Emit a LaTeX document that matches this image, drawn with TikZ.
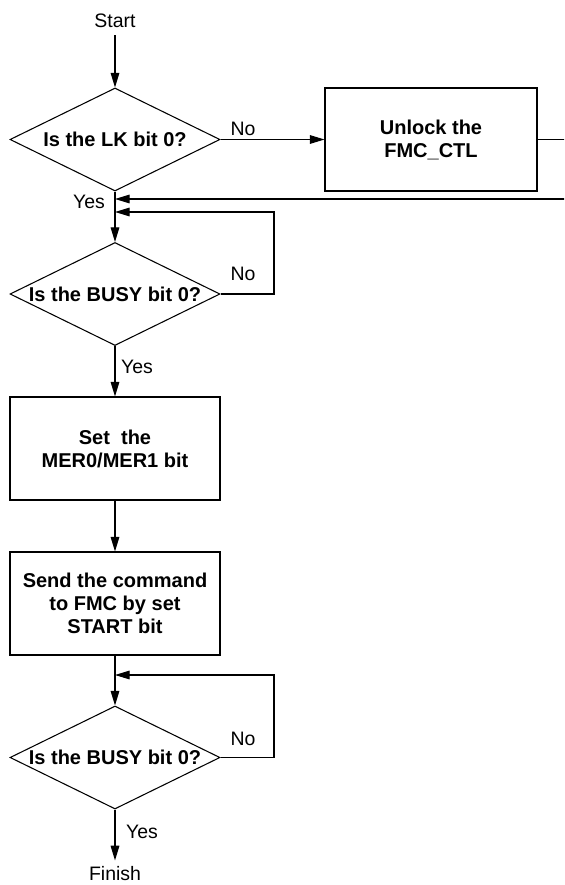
\documentclass[tikz,border=0pt]{standalone}
\usepackage{fontspec}
\setmainfont{Liberation Sans}
\usetikzlibrary{shapes.geometric,arrows.meta}
\begin{document}
\begin{tikzpicture}[x=0.75pt,y=-0.75pt,line width=0.8pt,
  arr/.style={-{Triangle[length=11pt,width=6.5pt]}},
  procbox/.style={draw,minimum width=157.5pt,minimum height=77.25pt,inner sep=0pt,
    align=center,font=\fontsize{15}{17.25}\selectfont\bfseries},
  dia/.style={draw,diamond,minimum width=157.5pt,minimum height=77.25pt,inner sep=0pt},
  dtext/.style={inner sep=0pt,font=\fontsize{15}{17.25}\selectfont\bfseries},
  lbl/.style={inner sep=0pt,anchor=base,font=\fontsize{14.6}{17}\selectfont}]
\useasboundingbox (0,0) rectangle (564,885);
\clip (0,0) rectangle (564,885);
% nodes
\node[lbl,outer ysep=6pt] (start) at (115,27) {Start};
\node[dia] (d1) at (115,139.5) {};
\node[dtext] at (d1.center) {Is the LK bit 0?};
\node[procbox,minimum width=159pt] (box1) at (431,139.5) {Unlock the\\FMC\_CTL};
\node[dia] (d2) at (115,294) {};
\node[dtext] at (d2.center) {Is the BUSY bit 0?};
\node[procbox] (box2) at (115,448.5) {Set\ \ the\\MER0/MER1 bit};
\node[procbox] (box3) at (115,603.5) {Send the command\\to FMC by set\\START bit};
\node[dia] (d3) at (115,757.5) {};
\node[dtext] at (d3.center) {Is the BUSY bit 0?};
\node[lbl,outer ysep=4.5pt] (finish) at (115,880.5) {Finish};
% coordinates
\coordinate (r1) at (590,139.5);
\coordinate (j1) at (115,199);
\coordinate (r2) at (274,294);
\coordinate (j2) at (115,212);
\coordinate (r3) at (274,757.5);
\coordinate (j3) at (115,675);
% connectors
\draw[arr] (start.south) -- (d1.north);
\draw[arr] (d1.east) -- (box1.west);
\draw[arr] (box1.east) -- (r1) |- (j1);
\draw[arr] (d1.south) -- (d2.north);
\draw[arr] (d2.east) -- (r2) |- (j2);
\draw[arr] (d2.south) -- (box2.north);
\draw[arr] (box2.south) -- (box3.north);
\draw[arr] (box3.south) -- (d3.north);
\draw[arr] (d3.east) -- (r3) |- (j3);
\draw[arr] (d3.south) -- (finish.north);
% labels
\node[lbl] at (243,135) {No};
\node[lbl] at (89,208) {Yes};
\node[lbl] at (243,280) {No};
\node[lbl] at (137,373) {Yes};
\node[lbl] at (243,745) {No};
\node[lbl] at (142,838) {Yes};
\end{tikzpicture}
\end{document}
